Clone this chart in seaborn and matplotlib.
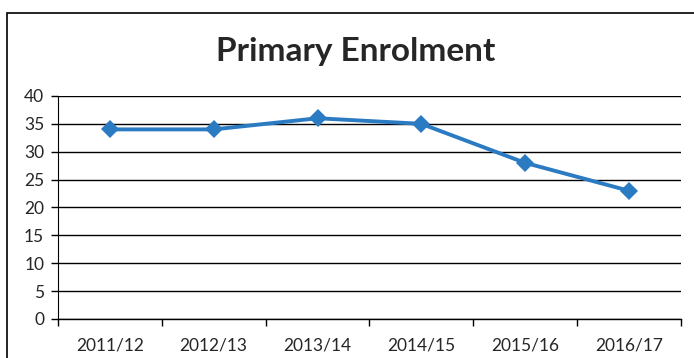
import numpy as np
import pandas as pd
import matplotlib
matplotlib.use("Agg")
import matplotlib.pyplot as plt
import seaborn as sns
from matplotlib.patches import Rectangle

years = ["2011/12", "2012/13", "2013/14", "2014/15", "2015/16", "2016/17"]
enrolment = [34, 34, 36, 35, 28, 23]
y_ticks = [0, 5, 10, 15, 20, 25, 30, 35, 40]


def main() -> None:
    sns.set_style("white")
    plt.rcParams['font.family'] = ['Lato', 'DejaVu Sans']

    df = pd.DataFrame({"Year": years, "Enrolment": enrolment})

    fig = plt.figure(figsize=(6.94, 3.58), dpi=100)
    ax = fig.add_axes([0.0836, 0.109, 0.8974, 0.623])

    sns.lineplot(data=df, x="Year", y="Enrolment", ax=ax, color="#2B7BC3",
                 linewidth=2.8, marker="D", markersize=9, markeredgewidth=0,
                 sort=False)

    ax.set_ylim(0, 40)
    ax.set_xlim(-0.5, len(years) - 0.5)
    ax.set_yticks(y_ticks)
    ax.yaxis.grid(True, color="black", linewidth=1.0)
    ax.set_axisbelow(True)
    for s in ["top", "right"]:
        ax.spines[s].set_visible(False)
    ax.spines["left"].set_color("black")
    ax.spines["bottom"].set_color("black")
    ax.spines["left"].set_linewidth(0.8)
    ax.spines["bottom"].set_linewidth(1.0)

    # tick marks between categories, labels at the centres
    ax.set_xticks(np.arange(len(years)))
    ax.set_xticklabels(years)
    ax.set_xticks(np.arange(-0.5, len(years)), minor=True)
    ax.tick_params(axis="x", which="major", length=0, pad=13, labelsize=12.5)
    ax.tick_params(axis="x", which="minor", length=5, width=1, color="black",
                   direction="out", bottom=True)
    ax.tick_params(axis="y", length=5, width=1, color="black", direction="out",
                   left=True, labelsize=12.5, pad=5)
    ax.set_xlabel("")
    ax.set_ylabel("")

    fig.text(0.513, 0.857, "Primary Enrolment", ha="center", va="center",
             fontsize=24, fontweight="bold")

    fig.patches.append(Rectangle((7 / 694, -0.1), 1.2, 1 - 13 / 358 + 0.1,
                                 transform=fig.transFigure, fill=False,
                                 edgecolor="black", linewidth=1.2))

    fig.savefig("out.png", dpi=100)


if __name__ == "__main__":
    main()
